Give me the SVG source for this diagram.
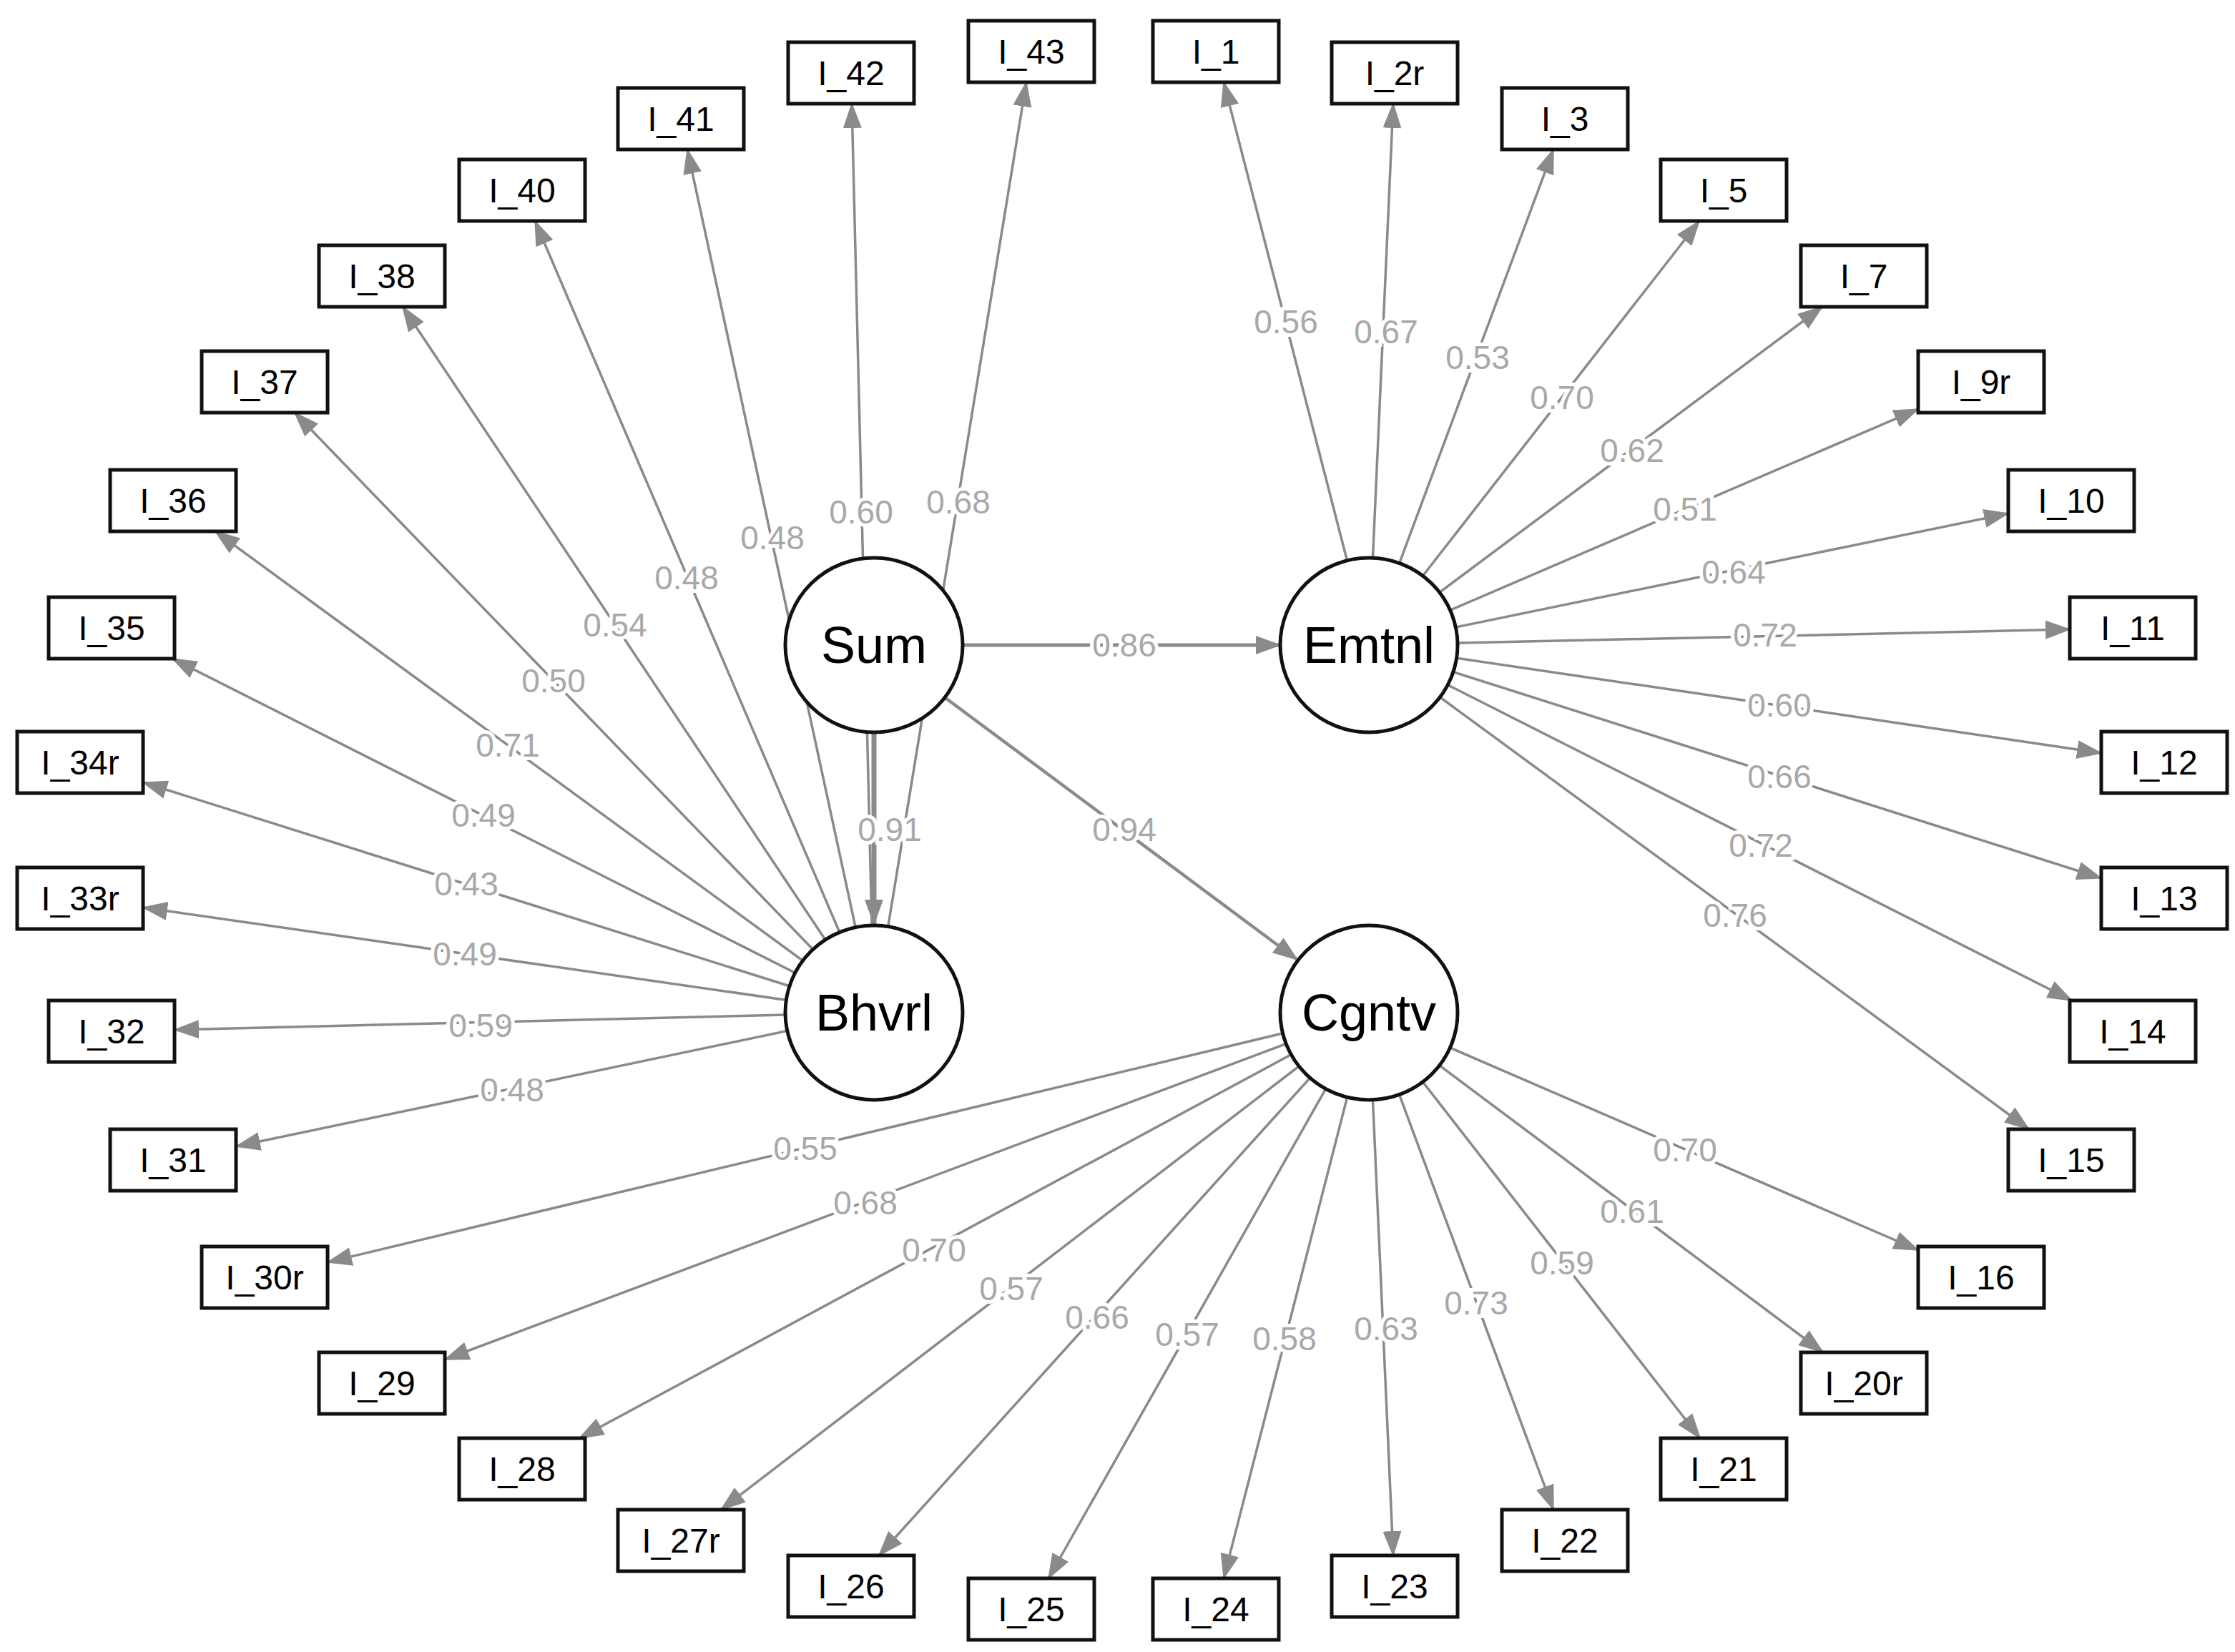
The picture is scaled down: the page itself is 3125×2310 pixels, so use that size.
<svg xmlns="http://www.w3.org/2000/svg" width="3125" height="2310" viewBox="0 0 3125 2310">
<style>
.e{stroke:#8a8a8a;stroke-width:3.5;fill:none;marker-end:url(#ah)}
.l{font-family:"Liberation Sans",Arial,sans-serif;font-size:46px;fill:#a8a8a8;text-anchor:middle;dominant-baseline:central;stroke:#fff;stroke-width:10px;paint-order:stroke}
.b rect{fill:#fff;stroke:#111;stroke-width:5}
.b text{font-family:"Liberation Sans",Arial,sans-serif;font-size:48px;fill:#000;text-anchor:middle;dominant-baseline:central}
.n ellipse{fill:#fff;stroke:#111;stroke-width:5}
.n text{font-family:"Liberation Sans",Arial,sans-serif;font-size:72px;fill:#000;text-anchor:middle;dominant-baseline:central}
</style>
<defs>
<marker id="ah" markerUnits="userSpaceOnUse" markerWidth="36" markerHeight="26" refX="34" refY="13" orient="auto"><path d="M0,0 L36,13 L0,26 Z" fill="#8a8a8a"/></marker>
</defs>
<rect width="3125" height="2310" fill="#fff"/>
<g id="connectors">
<line class="e" x1="1222" y1="1416" x2="1435" y2="115"/>
<line class="e" x1="1222" y1="1416" x2="1191" y2="145"/>
<line class="e" x1="1222" y1="1416" x2="961" y2="209"/>
<line class="e" x1="1222" y1="1416" x2="748" y2="309"/>
<line class="e" x1="1222" y1="1416" x2="563" y2="429"/>
<line class="e" x1="1222" y1="1416" x2="412" y2="577"/>
<line class="e" x1="1222" y1="1416" x2="301" y2="743"/>
<line class="e" x1="1222" y1="1416" x2="241" y2="921"/>
<line class="e" x1="1222" y1="1416" x2="200" y2="1094"/>
<line class="e" x1="1222" y1="1416" x2="200" y2="1269"/>
<line class="e" x1="1222" y1="1416" x2="244" y2="1440"/>
<line class="e" x1="1222" y1="1416" x2="330" y2="1603"/>
<line class="e" x1="1914" y1="1416" x2="458" y2="1765"/>
<line class="e" x1="1914" y1="1416" x2="622" y2="1901"/>
<line class="e" x1="1914" y1="1416" x2="810" y2="2011"/>
<line class="e" x1="1914" y1="1416" x2="1008" y2="2111"/>
<line class="e" x1="1914" y1="1416" x2="1229" y2="2175"/>
<line class="e" x1="1914" y1="1416" x2="1466" y2="2207"/>
<line class="e" x1="1914" y1="1416" x2="1711" y2="2207"/>
<line class="e" x1="1914" y1="1416" x2="1948" y2="2175"/>
<line class="e" x1="1914" y1="1416" x2="2172" y2="2111"/>
<line class="e" x1="1914" y1="1416" x2="2377" y2="2011"/>
<line class="e" x1="1914" y1="1416" x2="2549" y2="1891"/>
<line class="e" x1="1914" y1="1416" x2="2682" y2="1748"/>
<line class="e" x1="1914" y1="902" x2="1711" y2="115"/>
<line class="e" x1="1914" y1="902" x2="1948" y2="145"/>
<line class="e" x1="1914" y1="902" x2="2172" y2="209"/>
<line class="e" x1="1914" y1="902" x2="2376" y2="309"/>
<line class="e" x1="1914" y1="902" x2="2548" y2="429"/>
<line class="e" x1="1914" y1="902" x2="2682" y2="572"/>
<line class="e" x1="1914" y1="902" x2="2808" y2="718"/>
<line class="e" x1="1914" y1="902" x2="2894" y2="880"/>
<line class="e" x1="1914" y1="902" x2="2938" y2="1053"/>
<line class="e" x1="1914" y1="902" x2="2938" y2="1228"/>
<line class="e" x1="1914" y1="902" x2="2897" y2="1399"/>
<line class="e" x1="1914" y1="902" x2="2837" y2="1579"/>
<line class="e" x1="1346" y1="902" x2="1790" y2="902" style="stroke-width:5"/>
<line class="e" x1="1222" y1="1026" x2="1222" y2="1292" style="stroke-width:7"/>
<line class="e" x1="1322" y1="976" x2="1814" y2="1342" style="stroke-width:4.5"/>
</g>
<g id="nodes">
<g id="Sum" class="n"><ellipse cx="1222" cy="902" rx="124" ry="122"/><text x="1222" y="902">Sum</text></g>
<g id="Emtnl" class="n"><ellipse cx="1914" cy="902" rx="124" ry="122"/><text x="1914" y="902">Emtnl</text></g>
<g id="Bhvrl" class="n"><ellipse cx="1222" cy="1416" rx="124" ry="122"/><text x="1222" y="1416">Bhvrl</text></g>
<g id="Cgntv" class="n"><ellipse cx="1914" cy="1416" rx="124" ry="122"/><text x="1914" y="1416">Cgntv</text></g>
<g id="I_43" class="b"><rect x="1354" y="29" width="176" height="86"/><text x="1442" y="72">I_43</text></g>
<g id="I_42" class="b"><rect x="1102" y="59" width="176" height="86"/><text x="1190" y="102">I_42</text></g>
<g id="I_41" class="b"><rect x="864" y="123" width="176" height="86"/><text x="952" y="166">I_41</text></g>
<g id="I_40" class="b"><rect x="642" y="223" width="176" height="86"/><text x="730" y="266">I_40</text></g>
<g id="I_38" class="b"><rect x="446" y="343" width="176" height="86"/><text x="534" y="386">I_38</text></g>
<g id="I_37" class="b"><rect x="282" y="491" width="176" height="86"/><text x="370" y="534">I_37</text></g>
<g id="I_36" class="b"><rect x="154" y="657" width="176" height="86"/><text x="242" y="700">I_36</text></g>
<g id="I_35" class="b"><rect x="68" y="835" width="176" height="86"/><text x="156" y="878">I_35</text></g>
<g id="I_34r" class="b"><rect x="24" y="1023" width="176" height="86"/><text x="112" y="1066">I_34r</text></g>
<g id="I_33r" class="b"><rect x="24" y="1213" width="176" height="86"/><text x="112" y="1256">I_33r</text></g>
<g id="I_32" class="b"><rect x="68" y="1399" width="176" height="86"/><text x="156" y="1442">I_32</text></g>
<g id="I_31" class="b"><rect x="154" y="1579" width="176" height="86"/><text x="242" y="1622">I_31</text></g>
<g id="I_30r" class="b"><rect x="282" y="1743" width="176" height="86"/><text x="370" y="1786">I_30r</text></g>
<g id="I_29" class="b"><rect x="446" y="1891" width="176" height="86"/><text x="534" y="1934">I_29</text></g>
<g id="I_28" class="b"><rect x="642" y="2011" width="176" height="86"/><text x="730" y="2054">I_28</text></g>
<g id="I_27r" class="b"><rect x="864" y="2111" width="176" height="86"/><text x="952" y="2154">I_27r</text></g>
<g id="I_26" class="b"><rect x="1102" y="2175" width="176" height="86"/><text x="1190" y="2218">I_26</text></g>
<g id="I_25" class="b"><rect x="1354" y="2207" width="176" height="86"/><text x="1442" y="2250">I_25</text></g>
<g id="I_24" class="b"><rect x="1612" y="2207" width="176" height="86"/><text x="1700" y="2250">I_24</text></g>
<g id="I_23" class="b"><rect x="1862" y="2175" width="176" height="86"/><text x="1950" y="2218">I_23</text></g>
<g id="I_22" class="b"><rect x="2100" y="2111" width="176" height="86"/><text x="2188" y="2154">I_22</text></g>
<g id="I_21" class="b"><rect x="2322" y="2011" width="176" height="86"/><text x="2410" y="2054">I_21</text></g>
<g id="I_20r" class="b"><rect x="2518" y="1891" width="176" height="86"/><text x="2606" y="1934">I_20r</text></g>
<g id="I_16" class="b"><rect x="2682" y="1743" width="176" height="86"/><text x="2770" y="1786">I_16</text></g>
<g id="I_1" class="b"><rect x="1612" y="29" width="176" height="86"/><text x="1700" y="72">I_1</text></g>
<g id="I_2r" class="b"><rect x="1862" y="59" width="176" height="86"/><text x="1950" y="102">I_2r</text></g>
<g id="I_3" class="b"><rect x="2100" y="123" width="176" height="86"/><text x="2188" y="166">I_3</text></g>
<g id="I_5" class="b"><rect x="2322" y="223" width="176" height="86"/><text x="2410" y="266">I_5</text></g>
<g id="I_7" class="b"><rect x="2518" y="343" width="176" height="86"/><text x="2606" y="386">I_7</text></g>
<g id="I_9r" class="b"><rect x="2682" y="491" width="176" height="86"/><text x="2770" y="534">I_9r</text></g>
<g id="I_10" class="b"><rect x="2808" y="657" width="176" height="86"/><text x="2896" y="700">I_10</text></g>
<g id="I_11" class="b"><rect x="2894" y="835" width="176" height="86"/><text x="2982" y="878">I_11</text></g>
<g id="I_12" class="b"><rect x="2938" y="1023" width="176" height="86"/><text x="3026" y="1066">I_12</text></g>
<g id="I_13" class="b"><rect x="2938" y="1213" width="176" height="86"/><text x="3026" y="1256">I_13</text></g>
<g id="I_14" class="b"><rect x="2894" y="1399" width="176" height="86"/><text x="2982" y="1442">I_14</text></g>
<g id="I_15" class="b"><rect x="2808" y="1579" width="176" height="86"/><text x="2896" y="1622">I_15</text></g>
</g>
<g id="labels">
<text class="l" x="1340" y="702">0.68</text>
<text class="l" x="1204" y="716">0.60</text>
<text class="l" x="1080" y="752">0.48</text>
<text class="l" x="960" y="808">0.48</text>
<text class="l" x="860" y="874">0.54</text>
<text class="l" x="774" y="952">0.50</text>
<text class="l" x="710" y="1042">0.71</text>
<text class="l" x="676" y="1140">0.49</text>
<text class="l" x="652" y="1236">0.43</text>
<text class="l" x="650" y="1334">0.49</text>
<text class="l" x="672" y="1434">0.59</text>
<text class="l" x="716" y="1524">0.48</text>
<text class="l" x="1126" y="1606">0.55</text>
<text class="l" x="1210" y="1682">0.68</text>
<text class="l" x="1306" y="1748">0.70</text>
<text class="l" x="1414" y="1802">0.57</text>
<text class="l" x="1534" y="1842">0.66</text>
<text class="l" x="1660" y="1866">0.57</text>
<text class="l" x="1796" y="1872">0.58</text>
<text class="l" x="1938" y="1858">0.63</text>
<text class="l" x="2064" y="1822">0.73</text>
<text class="l" x="2184" y="1766">0.59</text>
<text class="l" x="2282" y="1694">0.61</text>
<text class="l" x="2356" y="1608">0.70</text>
<text class="l" x="1798" y="450">0.56</text>
<text class="l" x="1938" y="464">0.67</text>
<text class="l" x="2066" y="500">0.53</text>
<text class="l" x="2184" y="556">0.70</text>
<text class="l" x="2282" y="630">0.62</text>
<text class="l" x="2356" y="712">0.51</text>
<text class="l" x="2424" y="800">0.64</text>
<text class="l" x="2468" y="888">0.72</text>
<text class="l" x="2488" y="986">0.60</text>
<text class="l" x="2488" y="1086">0.66</text>
<text class="l" x="2462" y="1182">0.72</text>
<text class="l" x="2426" y="1280">0.76</text>
<text class="l" x="1572" y="902">0.86</text>
<text class="l" x="1244" y="1160">0.91</text>
<text class="l" x="1572" y="1160">0.94</text>
</g>
</svg>
